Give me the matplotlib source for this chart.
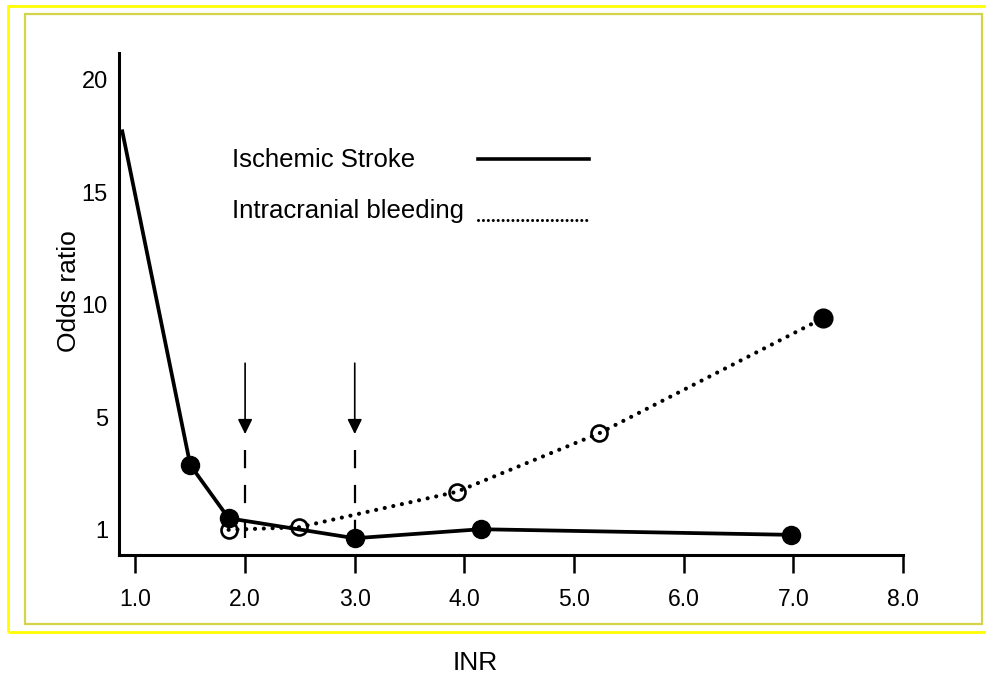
import numpy as np
import matplotlib
matplotlib.use('Agg')
import matplotlib.pyplot as plt
from matplotlib.patches import Rectangle

# values (odds ratio vs INR)
stroke_inr = [0.88, 1.5, 1.85, 3.0, 4.15, 6.98]
stroke_or = [17.7, 3.3, 1.41, 0.70, 1.02, 0.82]
bleed_inr = [1.85, 2.49, 3.93, 5.23, 7.27]
bleed_or = [1.0, 1.09, 2.35, 4.43, 9.4]
bleed_filled = [False, False, False, False, True]
series_names = ['Ischemic Stroke', 'Intracranial bleeding']
arrow_inr = [2.0, 3.0]
xticks = [1.0, 2.0, 3.0, 4.0, 5.0, 6.0, 7.0, 8.0]
yticks = [1, 5, 10, 15, 20]

font = ['Liberation Sans', 'DejaVu Sans']


# the y axis puts 1, 5, 10, 15, 20 at equal steps
def fwd(v):
    v = np.asarray(v, dtype=float)
    return np.where(v < 5, (v - 1) / 4.0, v / 5.0)


def inv(p):
    p = np.asarray(p, dtype=float)
    return np.where(p < 1, 4 * p + 1, 5 * p)


fig = plt.figure(figsize=(9.87, 6.77), dpi=100)
ax = fig.add_axes([119 / 987, 1 - 555 / 677, 784 / 987, 502 / 677])
ax.set_yscale('function', functions=(fwd, inv))
ax.set_xlim(0.85, 8.0)
ax.set_ylim(0.104, 21.18)

# intracranial bleeding, dotted
bf = np.array(bleed_filled)
bx = np.array(bleed_inr)
by = np.array(bleed_or)
ax.plot(bleed_inr, bleed_or, color='black', lw=3.0,
        linestyle=(0, (0.01, 2.1)), dash_capstyle='round', zorder=2)
ax.plot(bx[~bf], by[~bf], 'o', ms=11.5, mfc='none', mec='black', mew=1.9, zorder=3)
ax.plot(bx[bf], by[bf], 'o', ms=13.5, color='black', zorder=3)

# ischemic stroke, solid
ax.plot(stroke_inr, stroke_or, color='black', lw=2.7, zorder=4)
ax.plot(stroke_inr[1:], stroke_or[1:], 'o', ms=13, color='black', zorder=5)

# arrows and dashed markers at INR 2.0 and 3.0
for xa in arrow_inr:
    ax.annotate('', xy=(xa, 4.4), xytext=(xa, 7.4),
                arrowprops=dict(arrowstyle='-|>,head_length=0.45,head_width=0.22',
                                color='black', lw=1.2, mutation_scale=20,
                                shrinkA=0, shrinkB=0))
    ax.plot([xa, xa], [3.84, 0.104], color='black', lw=1.6,
            linestyle=(0, (8.2, 7.5)), zorder=1)

# legend drawn as text + sample lines
ax.text(0.144, 0.7735, series_names[0], transform=ax.transAxes,
        family=font, fontsize=18.5, va='baseline', ha='left')
ax.text(0.144, 0.6707, series_names[1], transform=ax.transAxes,
        family=font, fontsize=18.5, va='baseline', ha='left')
ax.plot([0.4575, 0.5998], [0.789, 0.789], transform=ax.transAxes,
        color='black', lw=2.6)
ax.plot([0.4575, 0.5998], [0.667, 0.667], transform=ax.transAxes,
        color='black', lw=2.2, linestyle=(0, (0.01, 1.6)), dash_capstyle='round')

# axes styling
for s in ['top', 'right']:
    ax.spines[s].set_visible(False)
for s in ['left', 'bottom']:
    ax.spines[s].set_linewidth(2.2)
ax.set_xticks(xticks)
ax.set_xticklabels([f'{t:.1f}' for t in xticks], family=font, fontsize=16.5)
ax.set_yticks(yticks)
ax.set_yticklabels([str(t) for t in yticks], family=font, fontsize=17)
ax.yaxis.set_minor_locator(matplotlib.ticker.NullLocator())
ax.tick_params(axis='x', direction='out', length=13, width=1.8, pad=11)
ax.tick_params(axis='y', length=0, pad=8)
ax.set_ylabel('Odds ratio', family=font, fontsize=19)
ax.yaxis.set_label_coords(-0.0485, 0.526)

fig.text(475.5 / 987, 1 - 663 / 677, 'INR', family=font, fontsize=19,
         ha='center', va='center')

# yellow frames
fig.patches.append(Rectangle((8 / 987, 1 - 632 / 677), 990 / 987, 626 / 677,
                             transform=fig.transFigure, fill=False,
                             ec='#ffff00', lw=2.0))
fig.patches.append(Rectangle((25.5 / 987, 1 - 623.5 / 677), 957 / 987, 609.5 / 677,
                             transform=fig.transFigure, fill=False,
                             ec='#d4d44a', lw=1.6))

fig.savefig('out.png', dpi=100)
